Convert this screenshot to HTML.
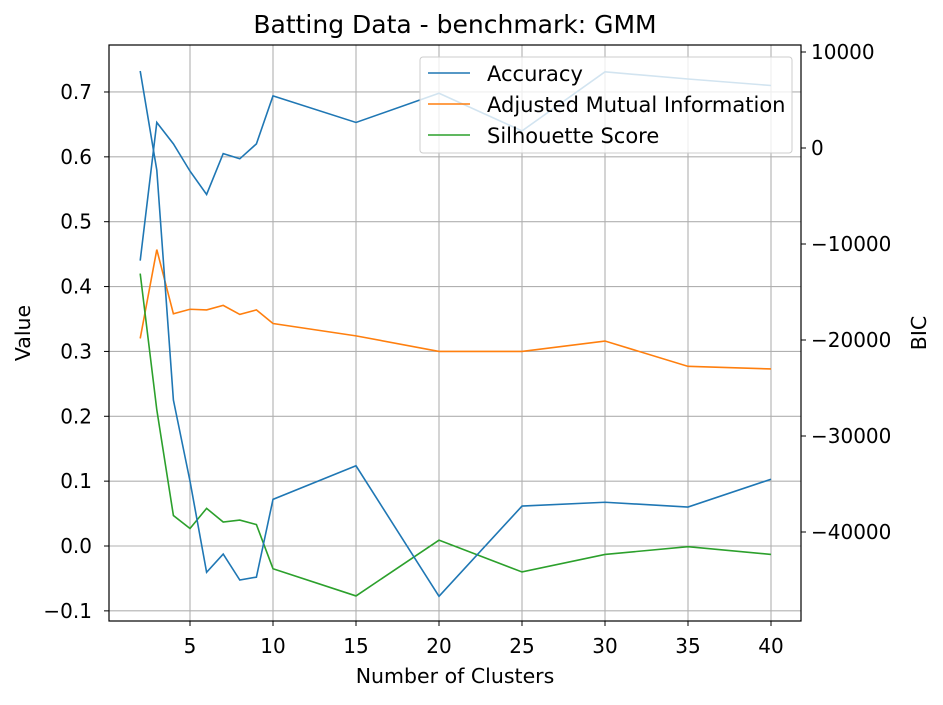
<!DOCTYPE html>
<html><head><meta charset="utf-8"><style>
body{margin:0;background:#fff}
svg{font-family:"DejaVu Sans","Liberation Sans",sans-serif}
</style></head><body>
<svg width="943" height="700" id="c">
<rect width="943" height="700" fill="#fff"/>
<text x="455" y="33" font-size="25" text-anchor="middle">Batting Data - benchmark: GMM</text>
<g id="grid"></g><g id="series"></g><g id="axes"></g>
<text x="455" y="683" font-size="20.5" text-anchor="middle">Number of Clusters</text>
<text transform="translate(30,333) rotate(-90)" font-size="20.5" text-anchor="middle">Value</text>
<text transform="translate(926,333) rotate(-90)" font-size="20.5" text-anchor="middle">BIC</text>
<g>
<rect x="420" y="57" width="372" height="96" rx="3" fill="#fff" fill-opacity="0.8" stroke="#ccc"/>
<line x1="428" y1="73" x2="470" y2="73" stroke="#1f77b4" stroke-width="1.5"/>
<text x="487" y="81" font-size="21">Accuracy</text>
<line x1="428" y1="104" x2="470" y2="104" stroke="#ff7f0e" stroke-width="1.5"/>
<text x="487" y="112" font-size="21">Adjusted Mutual Information</text>
<line x1="428" y1="135" x2="470" y2="135" stroke="#2ca02c" stroke-width="1.5"/>
<text x="487" y="143" font-size="21">Silhouette Score</text>
</g>
</svg>
<script>
const clusters=[2,3,4,5,6,7,8,9,10,15,20,25,30,35,40];
const accuracy=[0.44,0.653,0.62,0.578,0.542,0.605,0.597,0.62,0.694,0.653,0.698,0.64,0.731,0.72,0.71];
const ami=[0.32,0.457,0.358,0.365,0.364,0.371,0.357,0.364,0.343,0.324,0.300,0.300,0.316,0.277,0.273];
const silhouette=[0.42,0.21,0.047,0.027,0.058,0.037,0.04,0.033,-0.035,-0.077,0.009,-0.04,-0.013,-0.001,-0.013];
const bic=[8020,-2300,-26250,-34700,-44200,-42300,-45000,-44700,-36600,-33100,-46700,-37300,-36900,-37400,-34500];
const xTicks=[5,10,15,20,25,30,35,40];
const yTicks=[-0.1,0,0.1,0.2,0.3,0.4,0.5,0.6,0.7];
const y2Ticks=[10000,0,-10000,-20000,-30000,-40000];
const L=109,R=801,T=45,B=621;
const xs=v=>190+(v-5)*(771-190)/35;
const ys=v=>546-v*648.6;
const y2s=v=>148-v*0.0096;
const NS="http://www.w3.org/2000/svg";
function mk(p,tag,a){const e=document.createElementNS(NS,tag);for(const k in a)e.setAttribute(k,a[k]);document.getElementById(p).appendChild(e);return e;}
xTicks.forEach(t=>{const x=xs(t);
const g=mk('grid','line',{x1:x,x2:x,y1:T,y2:B,stroke:'#b0b0b0','stroke-width':1.1});

mk('axes','line',{x1:x,x2:x,y1:B,y2:B+5,stroke:'#000'});
const tx=mk('axes','text',{x:x,y:B+32,'font-size':20,'text-anchor':'middle'});tx.textContent=t;
});
yTicks.forEach(t=>{const y=ys(t);
const g=mk('grid','line',{x1:L,x2:R,y1:y,y2:y,stroke:'#b0b0b0','stroke-width':1.1});

mk('axes','line',{x1:L-5,x2:L,y1:y,y2:y,stroke:'#000'});
const tx=mk('axes','text',{x:L-17,y:y+7,'font-size':20,'text-anchor':'end'});tx.textContent=(t<0?'\u2212':'')+Math.abs(t).toFixed(1);
});
y2Ticks.forEach(t=>{const y=y2s(t);
mk('axes','line',{x1:R,x2:R+5,y1:y,y2:y,stroke:'#000'});
const tx=mk('axes','text',{x:R+10,y:y+7,'font-size':20});tx.textContent=(t<0?'\u2212':'')+Math.abs(t);
});
const fr=mk('axes','rect',{x:L,y:T,width:R-L,height:B-T,fill:'none',stroke:'#000','stroke-width':1.2});

function line(arr,sc,col,name){const p=mk('series','polyline',{points:arr.map((v,i)=>xs(clusters[i])+','+sc(v)).join(' '),fill:'none',stroke:col,'stroke-width':1.6});
}
line(accuracy,ys,'#1f77b4','accuracy-line');
line(ami,ys,'#ff7f0e','ami-line');
line(silhouette,ys,'#2ca02c','silhouette-line');
line(bic,y2s,'#1f77b4','bic-line');
</script>
</body></html>
